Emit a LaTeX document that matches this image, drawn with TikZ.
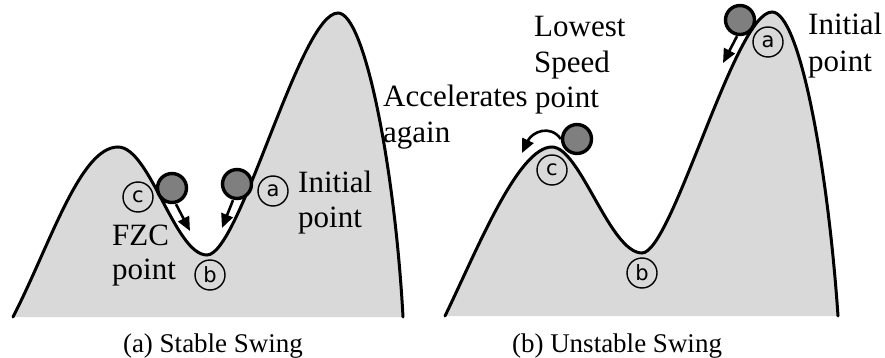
\documentclass[tikz,border=0pt]{standalone}
\usepackage{fontspec}
\setmainfont{Liberation Serif}
\newfontfamily\lblfont{DejaVu Sans}
\usetikzlibrary{arrows.meta}
\definecolor{hill}{HTML}{D9D9D9}
\definecolor{ballc}{HTML}{7F7F7F}
\tikzset{
  hillline/.style={draw=black,line width=3pt,line cap=round},
  ball/.style={circle,draw=black,fill=ballc,line width=3.4pt,minimum size=29pt,inner sep=0pt},
  tag/.style={circle,draw=black,line width=1.4pt,minimum size=30pt,inner sep=0pt,font=\lblfont\fontsize{21}{21}\selectfont},
  lbl/.style={anchor=base west,inner sep=0pt,font=\fontsize{31}{37}\selectfont},
  captxt/.style={anchor=base,inner sep=0pt,font=\fontsize{27}{30}\selectfont},
  mv/.style={line width=2.6pt,-{Triangle[length=14pt,width=12pt]}}
}
\begin{document}
\begin{tikzpicture}[x=1pt,y=-1pt]
\useasboundingbox (0,0) rectangle (885,358);
% hills
\def\lefthill{(13,317) .. controls (50,245) and (80,147) .. (118,147)
  .. controls (150,147) and (175,255) .. (207,255)
  .. controls (240,255) and (300,13) .. (338,13)
  .. controls (365,13) and (395,170) .. (403,317)}
\def\righthill{(445,316) .. controls (477,250) and (518,147) .. (552,147)
  .. controls (580,147) and (610,253) .. (642,253)
  .. controls (672,253) and (735,12) .. (772,12)
  .. controls (800,12) and (828,170) .. (838,316)}
\fill[hill] \lefthill -- cycle;
\draw[hillline] \lefthill;
\fill[hill] \righthill -- cycle;
\draw[hillline] \righthill;
% left panel
\node[tag] (lc) at (138,197) {c};
\node[tag] (la) at (273,191) {a};
\node[tag] (lb) at (210,275) {b};
\coordinate (lc1) at (190,231);
\coordinate (la1) at (222,228);
\node[ball] (lball1) at (172,188) {};
\node[ball] (lball2) at (237,184) {};
\draw[mv] (lball1.south) ++(4,0) -- (lc1);
\draw[mv] (lball2.south) ++(-4,0) -- (la1);
\node[lbl] (linit1) at (298,192) {Initial};
\node[lbl] (linit2) at (298,227) {point};
\node[lbl] (lfzc1) at (112,245) {FZC};
\node[lbl] (lfzc2) at (112,279) {point};
\node[lbl] (lacc1) at (383,107) {Accelerates};
\node[lbl] (lacc2) at (383,143) {again};
\node[captxt] (lcap) at (213,352) {(a) Stable Swing};
% right panel
\node[tag] (rc) at (552,170) {c};
\node[tag] (rb) at (642,273) {b};
\node[tag] (ra) at (768,42) {a};
\node[ball] (rball1) at (577,139) {};
\node[ball] (rball2) at (740,20) {};
\coordinate (rc1) at (522,153);
\coordinate (ra1) at (723,63);
\draw[mv] (rball1.west) .. controls (550,124) and (532,132) .. (rc1);
\draw[mv] (rball2.south) ++(-3,0) -- (ra1);
\node[lbl] (rlow1) at (534,37) {Lowest};
\node[lbl] (rlow2) at (534,73) {Speed};
\node[lbl] (rlow3) at (535,108) {point};
\node[lbl] (rinit1) at (808,35) {Initial};
\node[lbl] (rinit2) at (808,72) {point};
\node[captxt] (rcap) at (617,352) {(b) Unstable Swing};
\end{tikzpicture}
\end{document}
